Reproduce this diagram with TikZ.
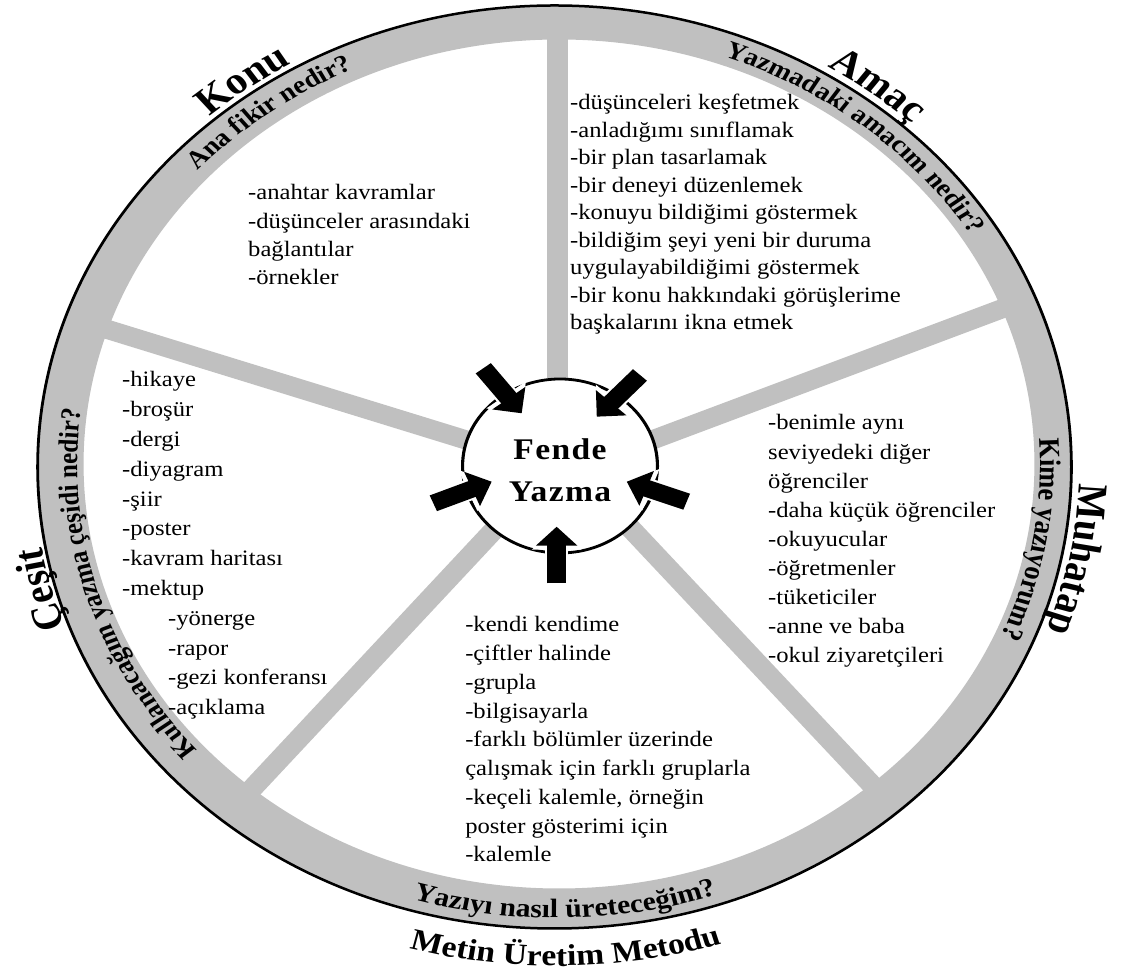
\documentclass[tikz,border=0pt]{standalone}
\usepackage{fontspec}
\setmainfont{Liberation Serif}
\newfontfamily\hubfont{Liberation Serif}[LetterSpace=4]
\usetikzlibrary{decorations.text,arrows.meta}
\definecolor{ringgray}{RGB}{192,192,192}
\tikzset{
  spoke/.style={draw=ringgray, line width=19pt},
  blockarrow/.style={draw=black, line width=17pt, -{Triangle[width=36pt,length=19pt]}},
  arrowhalo/.style={draw=white, line width=21pt, -{Triangle[width=43pt,length=23pt,color=white]}},
  body/.style={anchor=base west, inner sep=0pt},
  lblin/.style={decorate, decoration={text along path, text align=center,
     text={|\bfseries\fontsize{25}{30}\selectfont|#1}}},
  lblinbig/.style={decorate, decoration={text along path, text align=center,
     text={|\bfseries\fontsize{26.5}{31}\selectfont|#1}}},
  lblout/.style={decorate, decoration={text along path, text align=center,
     text={|\bfseries\fontsize{38}{44}\selectfont|#1}}},
  lblbottom/.style={decorate, decoration={text along path, text align=center,
     text={|\bfseries\fontsize{30}{36}\selectfont|#1}}},
  hubtext/.style={anchor=base, inner sep=0pt, font=\hubfont\bfseries\fontsize{30}{34}\selectfont}
}
\newcommand{\myblockfont}[1]{\fontsize{22}{#1}\selectfont}
\begin{document}
\begin{tikzpicture}[x=1pt,y=1pt]
\useasboundingbox (0,0) rectangle (1126,976);
\fill[white] (0,0) rectangle (1126,976);
\begin{scope}[transform canvas={xscale=1.12}]
  % ring
  \fill[ringgray, even odd rule] (495.1,509) circle[radius=461.5] (499.1,512) circle[radius=424.5];
  % spokes
  \coordinate (sTi) at (497.8,510);  \coordinate (sTo) at (497.8,956);
  \coordinate (sULi) at (464.3,519.4); \coordinate (sULo) at (75.9,653.5);
  \coordinate (sURi) at (535.7,516.4); \coordinate (sURo) at (910.7,674);
  \coordinate (sLRi) at (526.8,490.8); \coordinate (sLRo) at (794.6,172);
  \coordinate (sLLi) at (473.2,484.5); \coordinate (sLLo) at (209.8,169.1);
  \draw[spoke] (sTi) -- (sTo);
  \draw[spoke] (sULi) -- (sULo);
  \draw[spoke] (sURi) -- (sURo);
  \draw[spoke] (sLRi) -- (sLRo);
  \draw[spoke] (sLLi) -- (sLLo);
  % outer line
  \draw[line width=2.5pt] (495.1,509) circle[radius=461.5];
  % hub
  \node[circle, draw, line width=2.8pt, fill=white, minimum size=174pt, inner sep=0pt] (hub) at (500,510) {};
  % arrows
  \coordinate (a1t) at (431.5,607.7); \coordinate (a1h) at (465.8,562.7);
  \coordinate (a2t) at (571.4,601);   \coordinate (a2h) at (532.8,559.3);
  \coordinate (a3t) at (386.9,472.7); \coordinate (a3h) at (439,494.3);
  \coordinate (a4t) at (613.1,474.3); \coordinate (a4h) at (559.6,494.3);
  \coordinate (a5t) at (497,392.7);   \coordinate (a5h) at (497,449.3);
  \foreach \t/\h in {a1t/a1h, a2t/a2h, a3t/a3h, a4t/a4h, a5t/a5h}{
    \draw[arrowhalo] (\t) -- (\h);
    \draw[blockarrow] (\t) -- (\h);
  }
  % hub text
  \node[hubtext] (fende) at (500,516) {Fende};
  \node[hubtext] (yazma) at (500,474) {Yazma};
  % body texts
  \node[body] (konu) at (221.4,776) {\myblockfont{28.3}\begin{tabular}[t]{@{}l@{}}
    -anahtar kavramlar\\
    -düşünceler arasındaki\\
    bağlantılar\\
    -örnekler\end{tabular}};
  \node[body] (amac) at (508.9,866) {\myblockfont{27.5}\begin{tabular}[t]{@{}l@{}}
    -düşünceleri keşfetmek\\
    -anladığımı sınıflamak\\
    -bir plan tasarlamak\\
    -bir deneyi düzenlemek\\
    -konuyu bildiğimi göstermek\\
    -bildiğim şeyi yeni bir duruma\\
    uygulayabildiğimi göstermek\\
    -bir konu hakkındaki görüşlerime\\
    başkalarını ikna etmek\end{tabular}};
  \node[body] (kime) at (685.7,546) {\myblockfont{29.1}\begin{tabular}[t]{@{}l@{}}
    -benimle aynı\\
    seviyedeki diğer\\
    öğrenciler\\
    -daha küçük öğrenciler\\
    -okuyucular\\
    -öğretmenler\\
    -tüketiciler\\
    -anne ve baba\\
    -okul ziyaretçileri\end{tabular}};
  \node[body] (cesit) at (108.9,589) {\myblockfont{29.8}\begin{tabular}[t]{@{}l@{}}
    -hikaye\\
    -broşür\\
    -dergi\\
    -diyagram\\
    -şiir\\
    -poster\\
    -kavram haritası\\
    -mektup\\
    \hspace*{41pt}-yönerge\\
    \hspace*{41pt}-rapor\\
    \hspace*{41pt}-gezi konferansı\\
    \hspace*{41pt}-açıklama\end{tabular}};
  \node[body] (metin) at (415.2,344) {\myblockfont{28.75}\begin{tabular}[t]{@{}l@{}}
    -kendi kendime\\
    -çiftler halinde\\
    -grupla\\
    -bilgisayarla\\
    -farklı bölümler üzerinde\\
    çalışmak için farklı gruplarla\\
    -keçeli kalemle, örneğin\\
    poster gösterimi için\\
    -kalemle\end{tabular}};
  % curved labels
  \path[lblout=Konu, shift={(497,510)}] (156:467) arc[start angle=156, end angle=96, radius=467];
  \path[lblin={Ana fikir nedir?}, shift={(497,510)}] (161:436) arc[start angle=161, end angle=91, radius=436];
  \path[lblout=Amaç, shift={(497,510)}] (83:467) arc[start angle=83, end angle=23, radius=467];
  \path[lblin={Yazmadaki amacım nedir?}, shift={(497,510)}] (86:436) arc[start angle=86, end angle=16, radius=436];
  \path[lblout=Muhatap, shift={(497,510)}] (18.6:467) arc[start angle=18.6, end angle=-41.4, radius=467];
  \path[lblinbig={Kime yazıyorum?}, shift={(497,510)}] (25.2:432) arc[start angle=25.2, end angle=-44.8, radius=432];
  \path[lblout=Çeşit, shift={(497,510)}] (225:467) arc[start angle=225, end angle=165, radius=467];
  \path[lblin={Kullanacağım yazma çeşidi nedir?}, shift={(497,510)}] (237:428) arc[start angle=237, end angle=157, radius=428];
  \path[lblbottom={Metin Üretim Metodu}, shift={(497,510)}] (-119:500) arc[start angle=-119, end angle=-59, radius=500];
  \path[lblinbig={Yazıyı nasıl üreteceğim?}, shift={(497,510)}] (-124:452) arc[start angle=-124, end angle=-54, radius=452];
\end{scope}
\end{tikzpicture}
\end{document}
